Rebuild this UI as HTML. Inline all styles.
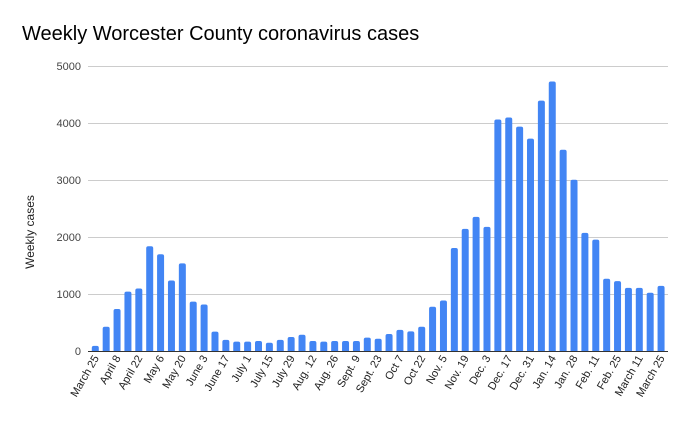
<!DOCTYPE html>
<html><head><meta charset="utf-8"><style>
body{margin:0;background:#fff;}
svg{display:block;font-family:"Liberation Sans",Arial,sans-serif;}
</style></head><body>
<svg width="690" height="427" viewBox="0 0 690 427" xmlns="http://www.w3.org/2000/svg">
<rect width="690" height="427" fill="#fff"/>
<text x="22" y="40" font-size="20" fill="#000">Weekly Worcester County coronavirus cases</text>
<g stroke="#ccc" stroke-width="1">
<line x1="88" x2="668" y1="66.5" y2="66.5"/>
<line x1="88" x2="668" y1="123.5" y2="123.5"/>
<line x1="88" x2="668" y1="180.5" y2="180.5"/>
<line x1="88" x2="668" y1="237.5" y2="237.5"/>
<line x1="88" x2="668" y1="294.5" y2="294.5"/>
</g>
<g font-size="11" fill="#444" text-anchor="end">
<text x="81" y="70">5000</text>
<text x="81" y="127">4000</text>
<text x="81" y="184">3000</text>
<text x="81" y="241">2000</text>
<text x="81" y="298">1000</text>
<text x="81" y="355">0</text>
</g>
<text transform="translate(34,232) rotate(-90)" font-size="12" fill="#222" text-anchor="middle">Weekly cases</text>
<g id="bars" fill="#4285f4"></g>
<line x1="88" x2="668" y1="351.5" y2="351.5" stroke="#333" stroke-width="1"/>
<g id="labels" font-size="11" fill="#222" text-anchor="end"></g>
</svg>
<script>
var v=[95,430,740,1045,1100,1840,1700,1240,1540,870,820,345,200,170,170,180,150,200,250,290,180,170,180,180,180,240,220,303,375,350,430,780,890,1810,2145,2355,2180,4060,4095,3935,3725,4390,4725,3530,3005,2075,1955,1270,1230,1110,1110,1025,1145];
var L=["March 25","April 8","April 22","May 6","May 20","June 3","June 17","July 1","July 15","July 29","Aug. 12","Aug. 26","Sept. 9","Sept. 23","Oct 7","Oct 22","Nov. 5","Nov. 19","Dec. 3","Dec. 17","Dec. 31","Jan. 14","Jan. 28","Feb. 11","Feb. 25","March 11","March 25"];
var ns="http://www.w3.org/2000/svg",b=document.getElementById("bars"),lg=document.getElementById("labels");
for(var i=0;i<v.length;i++){var cx=95.3+i*10.88,h=v[i]*0.0571,y=351.3-h;
var p=document.createElementNS(ns,"path");var x0=cx-3.5,x1=cx+3.5,r=Math.min(2,h/2);
p.setAttribute("d","M"+x0+" 351.3 L"+x0+" "+(y+r)+" Q"+x0+" "+y+" "+(x0+r)+" "+y+" L"+(x1-r)+" "+y+" Q"+x1+" "+y+" "+x1+" "+(y+r)+" L"+x1+" 351.3Z");b.appendChild(p);}
for(var j=0;j<L.length;j++){var cx=95.3+j*2*10.88;var t=document.createElementNS(ns,"text");
t.setAttribute("transform","translate("+(cx+4)+",358) rotate(-60)");t.textContent=L[j];lg.appendChild(t);}
</script>
</body></html>
